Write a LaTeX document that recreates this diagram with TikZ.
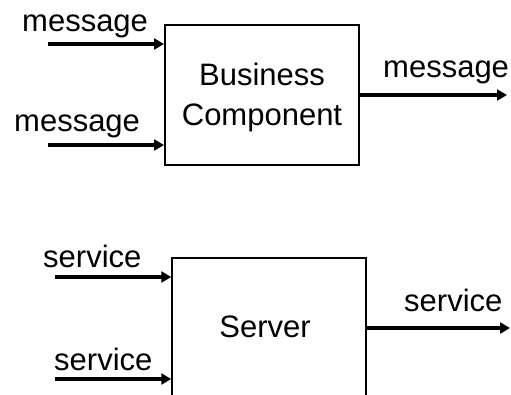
\documentclass[tikz,border=0pt]{standalone}
\usepackage{fontspec}
\setmainfont{Liberation Sans}
\usetikzlibrary{arrows.meta}
\begin{document}
\begin{tikzpicture}[x=1pt,y=-1pt,
  lbl/.style={anchor=base west,inner sep=0pt,font=\fontsize{31}{40}\selectfont},
  boxtxt/.style={anchor=base,inner sep=0pt,font=\fontsize{31}{40}\selectfont},
  flow/.style={line width=3.2pt,-{Triangle[length=10pt,width=11pt]}},
  boxA/.style={draw,line width=2pt,rectangle,inner sep=0pt},
  boxB/.style={draw,line width=1.5pt,rectangle,inner sep=0pt}]
\useasboundingbox (0,0) rectangle (511,394);
% top component
\node[boxA,minimum width=194pt,minimum height=140pt] (bc) at (262,95) {};
\node[boxtxt] (bct1) at (262,85) {Business};
\node[boxtxt] (bct2) at (262,125) {Component};
\coordinate (m1) at (48,44);
\coordinate (m2) at (48,145);
\coordinate (m3) at (507,95);
\draw[flow] (m1) -- (m1 -| bc.west);
\draw[flow] (m2) -- (m2 -| bc.west);
\draw[flow] (bc.east |- m3) -- (m3);
\node[lbl] (ml1) at (22,31) {message};
\node[lbl] (ml2) at (14,131) {message};
\node[lbl] (ml3) at (383,77) {message};
% bottom server (cut off at the lower edge)
\begin{scope}
\clip (0,0) rectangle (511,394);
\node[boxB,minimum width=194pt,minimum height=180pt] (sv) at (269,348) {};
\end{scope}
\node[boxtxt] (svt) at (265,337) {Server};
\coordinate (s1) at (55,277);
\coordinate (s2) at (55,379);
\coordinate (s3) at (510,328);
\draw[flow] (s1) -- (s1 -| sv.west);
\draw[flow] (s2) -- (s2 -| sv.west);
\draw[flow] (sv.east |- s3) -- (s3);
\node[lbl] (sl1) at (43,267) {service};
\node[lbl] (sl2) at (54,370) {service};
\node[lbl] (sl3) at (404,311) {service};
\end{tikzpicture}
\end{document}
